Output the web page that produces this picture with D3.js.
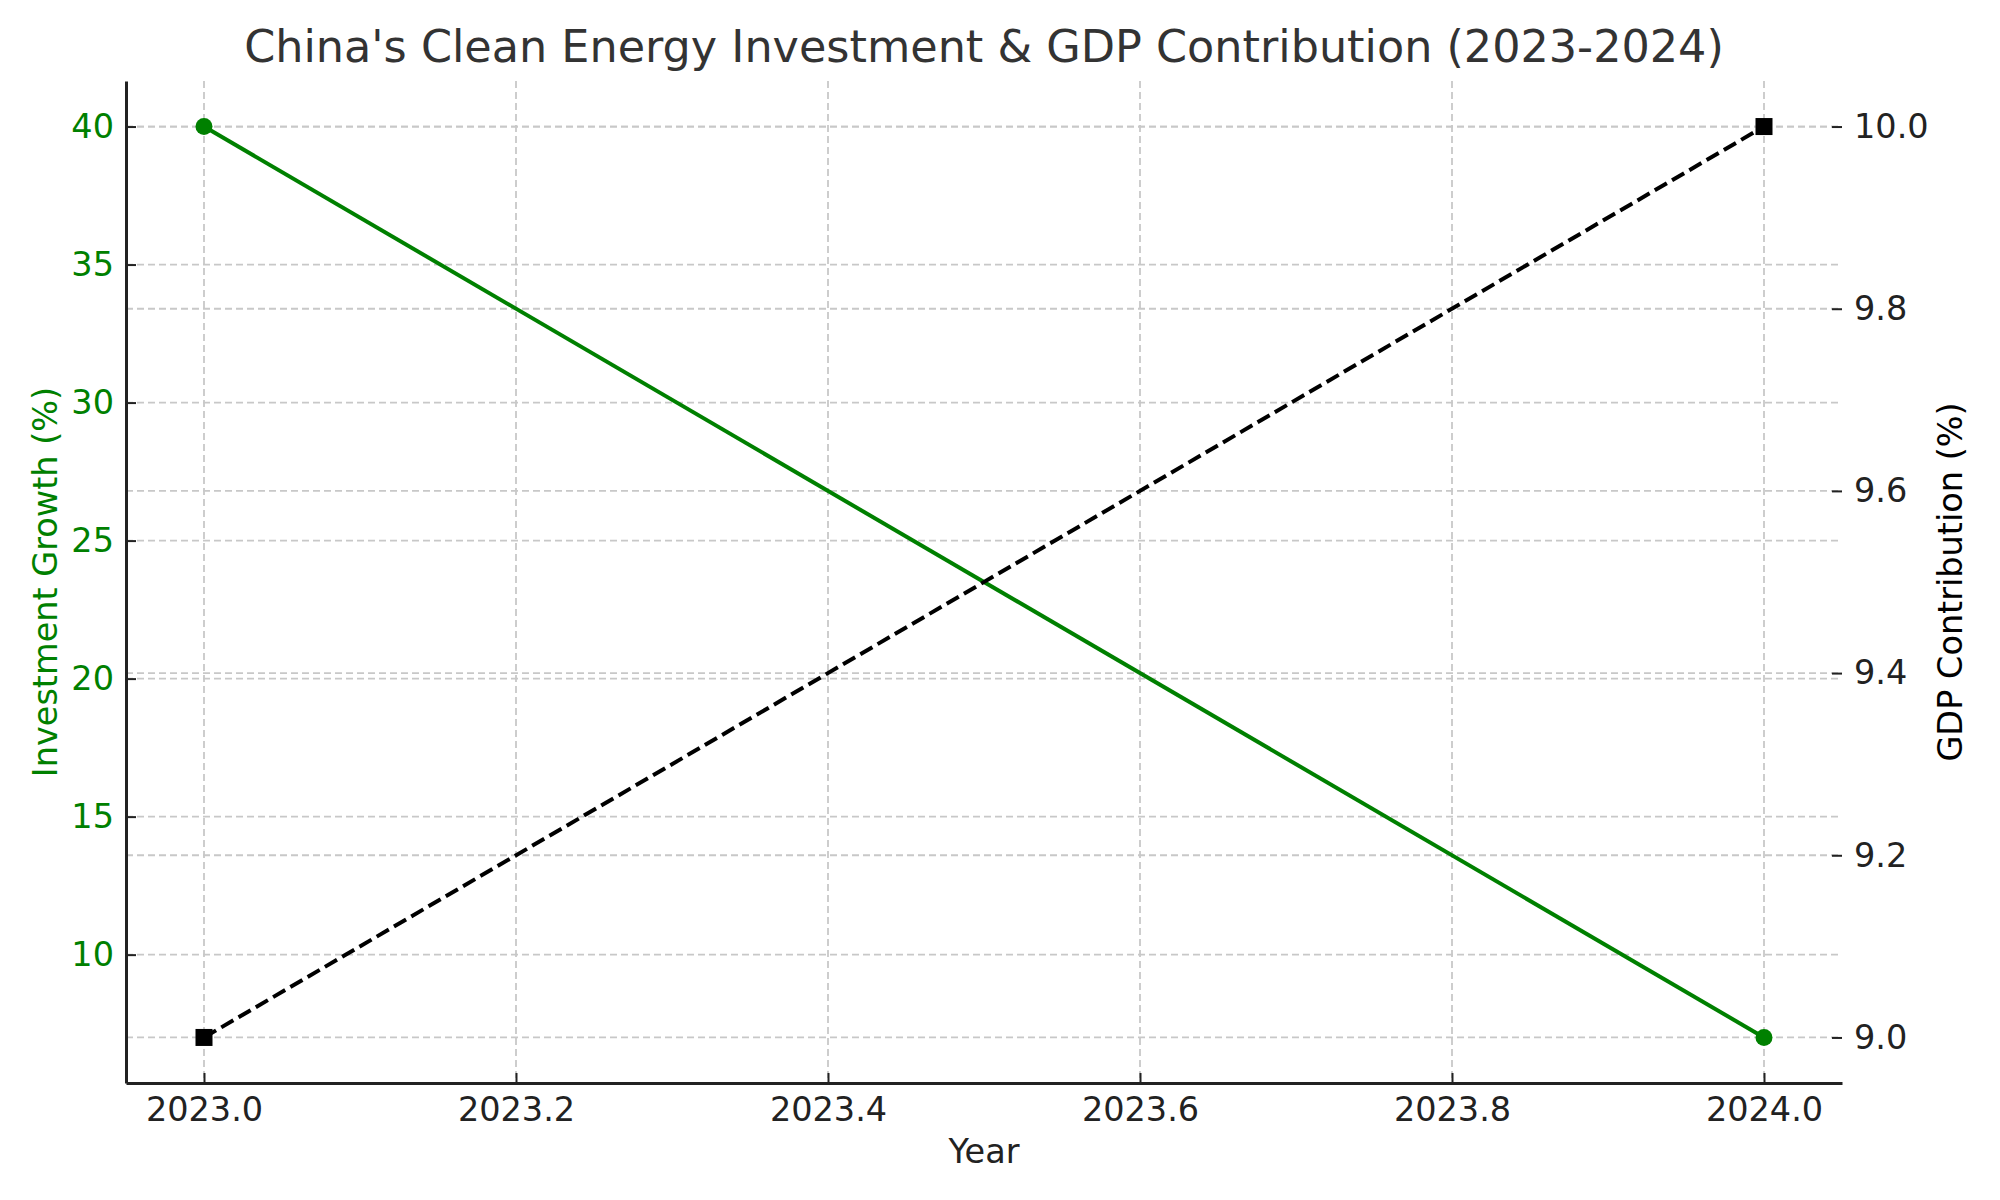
<!DOCTYPE html>
<html>
<head>
<meta charset="utf-8">
<script src="https://cdn.jsdelivr.net/npm/d3@7"></script>
<style>
html,body{margin:0;padding:0;background:#fff;}
svg{display:block;font-family:"DejaVu Sans",sans-serif;}
</style>
</head>
<body>
<script>
const years = [2023, 2024];
const investmentGrowth = [40, 7];
const gdpContribution = [9.0, 10.0];
const xTicks = [2023.0, 2023.2, 2023.4, 2023.6, 2023.8, 2024.0];
const leftTicks = [10, 15, 20, 25, 30, 35, 40];
const rightTicks = [9.0, 9.2, 9.4, 9.6, 9.8, 10.0];
const titleText = "China's Clean Energy Investment & GDP Contribution (2023-2024)";

const W = 2000, H = 1200;
const m = {left: 126, right: 2000 - 1842, top: 81, bottom: 1200 - 1083};
const iw = W - m.left - m.right, ih = H - m.top - m.bottom;

const svg = d3.select("body").append("svg").attr("width", W).attr("height", H);
const g = svg.append("g").attr("transform", `translate(${m.left},${m.top})`);

const pad = (a, b) => [a - (b - a) * 0.05, b + (b - a) * 0.05];
const x = d3.scaleLinear().domain(pad(2023, 2024)).range([0, iw]);
const yL = d3.scaleLinear().domain(pad(7, 40)).range([ih, 0]);
const yR = d3.scaleLinear().domain(pad(9, 10)).range([ih, 0]);

const GREEN = "#008000";
const gridStyle = s => s.attr("stroke", "#c8c8c8").attr("stroke-width", 1.8).attr("stroke-dasharray", "7,4");

// grids
const grid = g.append("g");
grid.selectAll(".vx").data(xTicks).join("line")
  .attr("x1", d => x(d)).attr("x2", d => x(d)).attr("y1", 0).attr("y2", ih).call(gridStyle);
grid.selectAll(".hl").data(leftTicks).join("line")
  .attr("x1", 0).attr("x2", iw).attr("y1", d => yL(d)).attr("y2", d => yL(d)).call(gridStyle);
grid.selectAll(".hr").data(rightTicks).join("line")
  .attr("x1", 0).attr("x2", iw).attr("y1", d => yR(d)).attr("y2", d => yR(d)).call(gridStyle);

// axes
const fs = 33.5;
const ax = g.append("g").attr("transform", `translate(0,${ih})`)
  .call(d3.axisBottom(x).tickValues(xTicks).tickFormat(d3.format(".1f")).tickSizeInner(-10).tickSizeOuter(0).tickPadding(14));
const axL = g.append("g")
  .call(d3.axisLeft(yL).tickValues(leftTicks).tickFormat(d3.format("d")).tickSizeInner(-10).tickSizeOuter(0).tickPadding(12));
const axR = g.append("g").attr("transform", `translate(${iw},0)`)
  .call(d3.axisRight(yR).tickValues(rightTicks).tickFormat(d3.format(".1f")).tickSizeInner(-10).tickSizeOuter(0).tickPadding(12));

[ax, axL, axR].forEach(a => {
  a.selectAll("text").attr("font-size", fs).attr("font-family", "DejaVu Sans").attr("fill", "#222");
  a.selectAll(".tick line").attr("stroke", "#222").attr("stroke-width", 2);
  a.select(".domain").attr("stroke", "#222").attr("stroke-width", 3);
});
axL.selectAll("text").attr("fill", GREEN);
axR.select(".domain").remove();

// lines
const lineL = d3.line().x((d, i) => x(years[i])).y(d => yL(d));
const lineR = d3.line().x((d, i) => x(years[i])).y(d => yR(d));

g.append("path").datum(investmentGrowth).attr("d", lineL)
  .attr("fill", "none").attr("stroke", GREEN).attr("stroke-width", 4);
g.selectAll(".dotL").data(investmentGrowth).join("circle")
  .attr("cx", (d, i) => x(years[i])).attr("cy", d => yL(d)).attr("r", 8.5).attr("fill", GREEN);

g.append("path").datum(gdpContribution).attr("d", lineR)
  .attr("fill", "none").attr("stroke", "#000").attr("stroke-width", 4).attr("stroke-dasharray", "14,6");
g.selectAll(".sqR").data(gdpContribution).join("rect")
  .attr("x", (d, i) => x(years[i]) - 8.5).attr("y", d => yR(d) - 8.5).attr("width", 17).attr("height", 17).attr("fill", "#000");

// labels
svg.append("text").attr("x", m.left + iw / 2).attr("y", 62).attr("text-anchor", "middle")
  .attr("font-size", 44.5).attr("fill", "#333").text(titleText);
svg.append("text").attr("x", m.left + iw / 2).attr("y", 1163).attr("text-anchor", "middle")
  .attr("font-size", 33.5).attr("fill", "#222").text("Year");
svg.append("text").attr("transform", `translate(57,${m.top + ih / 2}) rotate(-90)`).attr("text-anchor", "middle")
  .attr("font-size", 33.5).attr("fill", GREEN).text("Investment Growth (%)");
svg.append("text").attr("transform", `translate(1962,${m.top + ih / 2}) rotate(-90)`).attr("text-anchor", "middle")
  .attr("font-size", 33.5).attr("fill", "#000").text("GDP Contribution (%)");
</script>
</body>
</html>
